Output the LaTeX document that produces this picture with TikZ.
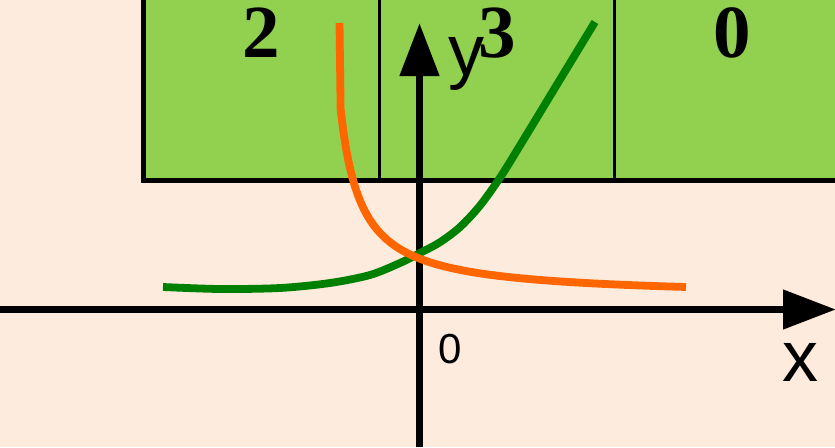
\documentclass[tikz,border=0pt]{standalone}
\usepackage{fontspec}
\setmainfont{Liberation Serif}
\newfontfamily\labelsans{Liberation Sans}
\usetikzlibrary{arrows.meta}
\definecolor{bgpeach}{RGB}{253,235,222}
\definecolor{panelgreen}{RGB}{146,208,80}
\definecolor{curvegreen}{RGB}{0,128,0}
\definecolor{curveorange}{RGB}{255,102,0}
\tikzset{
  axis/.style={line width=7.8pt, -{Triangle[length=53pt,width=38pt]}},
  curve/.style={line width=7.8pt},
  panelnum/.style={anchor=base, inner sep=0pt, font=\fontsize{75}{75}\selectfont\bfseries},
  bigsans/.style={anchor=base, inner sep=0pt, font=\labelsans\fontsize{72}{72}\selectfont},
  smallsans/.style={anchor=base, inner sep=0pt, font=\labelsans\fontsize{42}{42}\selectfont},
}
\begin{document}
\begin{tikzpicture}[x=1pt,y=-1pt]
\clip (0,0) rectangle (835,447);
\fill[bgpeach] (0,0) rectangle (835,447);
% green panel
\fill[panelgreen] (143.5,-10) rectangle (860,180.5);
\draw[line width=2.5pt] (379.5,-10) -- (379.5,180.5);
\draw[line width=2.5pt] (614.5,-10) -- (614.5,180.5);
\draw[line width=5pt] (143.5,-10) -- (143.5,180.5) -- (860,180.5);
\node[panelnum] (n2) at (261,57) {2};
\node[panelnum] (n3) at (497,57) {3};
\node[panelnum] (n0) at (732,57) {0};
% axes
\coordinate (xs) at (0,309.5);
\coordinate (xe) at (836,309.5);
\coordinate (ys) at (419.5,447);
\coordinate (ye) at (419.5,23);
\draw[axis] (xs) -- (xe);
\draw[axis] (ys) -- (ye);
\node[bigsans] (ylab) at (466,75) {y};
\node[bigsans] (xlab) at (800,381) {x};
\node[smallsans] (olab) at (450,363) {0};
% curves
\draw[curve, curvegreen] plot[smooth, tension=0.5] coordinates {(163,287) (220,289) (280,288) (330,283) (370,275) (400,263) (420,253) (440,242.2) (460,227.1) (480,205.6) (500,177.7) (520,145.5) (557,84.5) (595,22)};
\draw[curve, curveorange] (339.5,23) -- (340.5,100) -- plot[domain=340.5:686, samples=120] (\x, {297.6-3881/(\x-320)});
\end{tikzpicture}
\end{document}
